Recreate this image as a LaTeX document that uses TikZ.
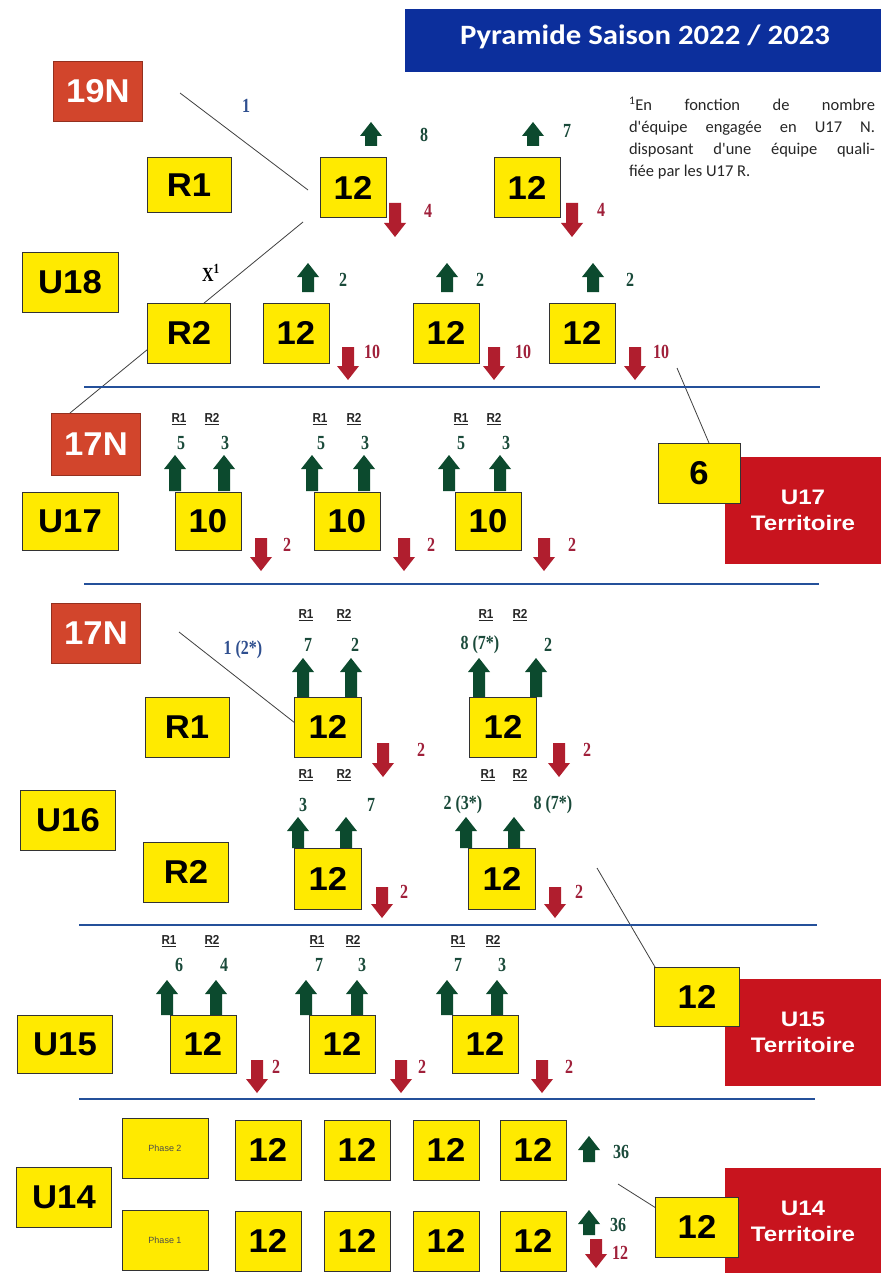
\documentclass[tikz,border=0pt]{standalone}
\usepackage{fontspec}
\setmainfont{Liberation Sans}
\newfontfamily\boxf{Liberation Sans}[FakeStretch=1.05]
\newfontfamily\terrf{Liberation Sans}[FakeStretch=1.15]
\newfontfamily\numf{Liberation Serif}[FakeStretch=0.8]
\newfontfamily\notef{Carlito}
\newfontfamily\titlef{Carlito}[FakeStretch=1.1]
\newfontfamily\smallsans{Liberation Sans}[FakeStretch=0.9]
\pgfdeclarelayer{back}\pgfdeclarelayer{bg}\pgfsetlayers{back,bg,main}
\definecolor{boxyellow}{HTML}{FFEA00}
\definecolor{natred}{HTML}{D2452C}
\definecolor{terred}{HTML}{C8141E}
\definecolor{headblue}{HTML}{0C2F9C}
\definecolor{lineblue}{HTML}{24509A}
\definecolor{garrowc}{HTML}{0C4A2E}
\definecolor{rarrowc}{HTML}{B01E2E}
\definecolor{labgreen}{HTML}{1A4A3A}
\definecolor{labred}{HTML}{A0203A}
\definecolor{labblue}{HTML}{2F4F8F}
\newcommand\gup[3]{\fill[garrowc] ({#1-6},#3) -- ({#1-6},{#2+14}) -- ({#1-11},{#2+14}) -- (#1,#2) -- ({#1+11},{#2+14}) -- ({#1+6},{#2+14}) -- ({#1+6},#3) -- cycle;}
\newcommand\rdown[3]{\fill[rarrowc] ({#1-6},#2) -- ({#1-6},{#3-14}) -- ({#1-11},{#3-14}) -- (#1,#3) -- ({#1+11},{#3-14}) -- ({#1+6},{#3-14}) -- ({#1+6},#2) -- cycle;}
\begin{document}
\begin{tikzpicture}[x=1pt,y=-1pt,
  ybox/.style={draw=black!80, line width=1pt, fill=boxyellow, inner sep=0pt, minimum width=66pt, minimum height=60pt, font=\boxf\bfseries\fontsize{33}{33}\selectfont},
  nbox/.style={fill=natred, draw=natred!70!black, line width=0.6pt, inner sep=0pt, minimum width=89pt, minimum height=60pt, text=white, font=\boxf\bfseries\fontsize{33}{33}\selectfont},
  terr/.style={fill=terred, inner sep=0pt, minimum width=156pt, minimum height=107pt, text=white, align=center, font=\terrf\bfseries\fontsize{21}{26}\selectfont},
  glab/.style={text=labgreen, inner sep=0pt, font=\numf\bfseries\fontsize{20}{20}\selectfont},
  rlab/.style={text=labred, inner sep=0pt, font=\numf\bfseries\fontsize{20}{20}\selectfont},
  blab/.style={text=labblue, inner sep=0pt, font=\numf\bfseries\fontsize{20}{20}\selectfont},
  rr/.style={text=black!85, inner sep=0pt, font=\smallsans\bfseries\fontsize{13}{13}\selectfont},
  phase/.style={ybox, minimum width=86pt, font=\fontsize{9}{9}\selectfont, text=black!70},
  conn/.style={draw=black!75, line width=0.8pt},
  sep/.style={draw=lineblue, line width=2.5pt}]
\useasboundingbox (0,0) rectangle (881,1273);
\begin{pgfonlayer}{back}
\fill[white] (0,0) rectangle (881,1273);
\end{pgfonlayer}
% header
\node[fill=headblue, minimum width=476pt, minimum height=63pt, inner sep=0pt, anchor=north west] (head) at (405,9) {};
\node[text=white, font=\titlef\bfseries\fontsize{28}{28}\selectfont] (title) at (645,37) {Pyramide Saison 2022 / 2023};
\node[font=\notef\fontsize{16.5}{22}\selectfont, align=left, inner sep=0pt, text=black!85] (note) at (752,138) {%
\makebox[246pt][s]{\textsuperscript{1}En fonction de nombre}\\
\makebox[246pt][s]{d'équipe engagée en U17 N.}\\
\makebox[246pt][s]{disposant d'une équipe quali-}\\
\makebox[246pt][l]{fiée par les U17 R.}};
% ---------- U18 R1
\node[nbox] (n19) at (98,91) {19N};
\node[ybox, minimum width=84pt, minimum height=55pt] (u18r1) at (189,185) {R1};
\node[ybox] (a1) at (353,188) {12};
\node[ybox] (a2) at (527,188) {12};
\gup{371}{122}{146} \gup{533}{122}{146}
\node[glab] (la8) at (424,135) {8};
\node[glab] (la7) at (567,131) {7};
\rdown{395}{203}{237} \rdown{572}{203}{237}
\node[rlab] (la4a) at (428,211) {4};
\node[rlab] (la4b) at (601,210) {4};
\node[blab] (lone) at (246,106) {1};
% ---------- U18 R2
\node[ybox, minimum width=96pt] (u18) at (70,282) {U18};
\node[text=black, inner sep=0pt, font=\numf\bfseries\fontsize{20}{20}\selectfont] (x1) at (211,273) {X\textsuperscript{1}};
\node[ybox, minimum width=83pt] (u18r2) at (189,333) {R2};
\node[ybox] (b1) at (296,333) {12};
\node[ybox] (b2) at (446,333) {12};
\node[ybox] (b3) at (582,333) {12};
\gup{308}{263}{292} \gup{447}{263}{292} \gup{593}{263}{292}
\node[glab] (lb1) at (343,280) {2};
\node[glab] (lb2) at (480,280) {2};
\node[glab] (lb3) at (630,280) {2};
\rdown{348}{347}{380} \rdown{494}{347}{380} \rdown{635}{347}{380}
\node[rlab] (lb10a) at (372,352) {10};
\node[rlab] (lb10b) at (523,352) {10};
\node[rlab] (lb10c) at (661,352) {10};
\draw[sep] (84,387) coordinate (h1a) -- (820,387) coordinate (h1b);
% ---------- U17
\node[nbox, minimum height=62pt] (n17a) at (96,444) {17N};
\node[ybox, minimum width=96pt, minimum height=58pt] (u17) at (70,521) {U17};
\node[ybox, minimum height=58pt] (c1) at (208,521) {10};
\node[ybox, minimum height=58pt] (c2) at (347,521) {10};
\node[ybox, minimum height=58pt] (c3) at (488,521) {10};
\foreach \xa/\xb [count=\i] in {179/212,320/354,461/494}{
  \node[rr] (cr1\i) at (\xa,419) {\underline{R1}};
  \node[rr] (cr2\i) at (\xb,419) {\underline{R2}};}
\foreach \xa/\xb [count=\i] in {181/225,321/365,461/506}{
  \node[glab] (cn5\i) at (\xa,443) {5};
  \node[glab] (cn3\i) at (\xb,443) {3};}
\gup{175}{455}{491} \gup{224}{455}{491}
\gup{312}{455}{491} \gup{364}{455}{491}
\gup{449}{455}{491} \gup{500}{455}{491}
\rdown{261}{538}{571} \rdown{404}{538}{571} \rdown{544}{538}{571}
\node[rlab] (lc2a) at (287,545) {2};
\node[rlab] (lc2b) at (431,545) {2};
\node[rlab] (lc2c) at (572,545) {2};
\node[terr] (t17) at (803,510) {U17\\Territoire};
\node[ybox, minimum width=82pt] (six) at (699,473) {6};
\draw[sep] (84,584) coordinate (h2a) -- (819,584) coordinate (h2b);
% ---------- U16
\node[nbox] (n17b) at (96,633) {17N};
\node[blab] (l12s) at (243,650) {1 (2*)};
\node[ybox, minimum width=84pt] (u16r1) at (187,727) {R1};
\node[ybox, minimum width=67pt] (d1) at (328,727) {12};
\node[ybox, minimum width=67pt] (d2) at (503,727) {12};
\foreach \xa/\xb [count=\i] in {306/344,486/520}{
  \node[rr] (dr1\i) at (\xa,615) {\underline{R1}};
  \node[rr] (dr2\i) at (\xb,615) {\underline{R2}};}
\node[glab] (ld7) at (308,645) {7};
\node[glab] (ld2) at (355,645) {2};
\node[glab] (ld87) at (480,645) {8 (7*)};
\node[glab] (ld2b) at (548,645) {2};
\gup{303}{658}{697} \gup{351}{658}{697}
\gup{479}{658}{697} \gup{536}{658}{697}
\rdown{383}{743}{777} \rdown{559}{743}{777}
\node[rlab] (ld2r) at (421,750) {2};
\node[rlab] (ld2s) at (587,750) {2};
\foreach \xa/\xb [count=\i] in {306/344,488/520}{
  \node[rr] (er1\i) at (\xa,775) {\underline{R1}};
  \node[rr] (er2\i) at (\xb,775) {\underline{R2}};}
\node[ybox, minimum width=95pt] (u16) at (68,820) {U16};
\node[ybox, minimum width=85pt] (u16r2) at (186,872) {R2};
\node[glab] (le3) at (303,805) {3};
\node[glab] (le7) at (371,805) {7};
\node[glab] (le23) at (463,805) {2 (3*)};
\node[glab] (le87) at (553,805) {8 (7*)};
\gup{298}{817}{848} \gup{346}{817}{848}
\gup{466}{817}{848} \gup{514}{817}{848}
\node[ybox, minimum width=67pt, minimum height=61pt] (e1) at (328,879) {12};
\node[ybox, minimum width=67pt, minimum height=61pt] (e2) at (502,879) {12};
\rdown{382}{887}{918} \rdown{555}{887}{918}
\node[rlab] (le2a) at (404,892) {2};
\node[rlab] (le2b) at (579,892) {2};
\draw[sep] (79,925) coordinate (h3a) -- (817,925) coordinate (h3b);
% ---------- U15
\foreach \xa/\xb [count=\i] in {169/212,317/353,458/493}{
  \node[rr] (fr1\i) at (\xa,941) {\underline{R1}};
  \node[rr] (fr2\i) at (\xb,941) {\underline{R2}};}
\node[glab] (lf6) at (179,965) {6};
\node[glab] (lf4) at (224,965) {4};
\node[glab] (lf7a) at (319,965) {7};
\node[glab] (lf3a) at (362,965) {3};
\node[glab] (lf7b) at (458,965) {7};
\node[glab] (lf3b) at (502,965) {3};
\gup{167}{980}{1015} \gup{216}{980}{1015}
\gup{306}{980}{1015} \gup{357}{980}{1015}
\gup{447}{980}{1015} \gup{497}{980}{1015}
\node[ybox, minimum width=95pt, minimum height=58pt] (u15) at (65,1044) {U15};
\node[ybox, minimum height=58pt] (f1) at (203,1044) {12};
\node[ybox, minimum height=58pt] (f2) at (342,1044) {12};
\node[ybox, minimum height=58pt] (f3) at (485,1044) {12};
\rdown{257}{1060}{1093} \rdown{401}{1060}{1093} \rdown{542}{1060}{1093}
\node[rlab] (lf2a) at (276,1067) {2};
\node[rlab] (lf2b) at (422,1067) {2};
\node[rlab] (lf2c) at (569,1067) {2};
\node[terr] (t15) at (803,1032) {U15\\Territoire};
\node[ybox, minimum width=85pt, minimum height=59pt] (f12) at (697,997) {12};
\draw[sep] (79,1099) coordinate (h4a) -- (815,1099) coordinate (h4b);
% ---------- U14
\node[phase] (ph2) at (165,1148) {Phase 2};
\node[phase] (ph1) at (165,1240) {Phase 1};
\node[ybox, minimum width=95pt] (u14) at (64,1197) {U14};
\foreach \xx [count=\i] in {268,357,446,533}{
  \node[ybox] (g2\i) at (\xx,1150) {12};
  \node[ybox] (g1\i) at (\xx,1241) {12};}
\gup{589}{1136}{1162}
\node[glab] (lg36a) at (621,1152) {36};
\gup{589}{1210}{1235}
\node[glab] (lg36b) at (618,1225) {36};
\rdown{596}{1239}{1268}
\node[rlab] (lg12) at (620,1253) {12};
\node[terr] (t14) at (803,1221) {U14\\Territoire};
\node[ybox, minimum width=83pt] (g12) at (697,1227) {12};
% ---------- connectors (behind)
\coordinate (k1a) at (180,93);   \coordinate (k1b) at (308,190);
\coordinate (k2a) at (303,222);  \coordinate (k2b) at (70,413);
\coordinate (k3a) at (677,368);  \coordinate (k3b) at (709,443);
\coordinate (k4a) at (179,632);  \coordinate (k4b) at (295,723);
\coordinate (k5a) at (597,868);  \coordinate (k5b) at (655,967);
\coordinate (k6a) at (618,1184); \coordinate (k6b) at (656,1208);
\begin{pgfonlayer}{bg}
\draw[conn] (k1a) -- (k1b);
\draw[conn] (k2a) -- (k2b);
\draw[conn] (k3a) -- (k3b);
\draw[conn] (k4a) -- (k4b);
\draw[conn] (k5a) -- (k5b);
\draw[conn] (k6a) -- (k6b);
\end{pgfonlayer}
\end{tikzpicture}
\end{document}
